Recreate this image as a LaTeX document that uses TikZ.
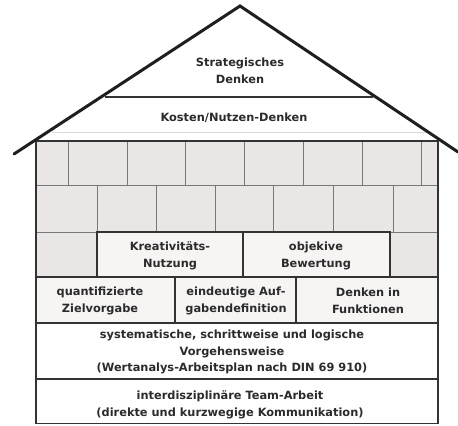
\documentclass[tikz,border=0pt]{standalone}
\usepackage{fontspec}
\setmainfont{DejaVu Sans}
\definecolor{ink}{HTML}{2B2B2B}
\definecolor{brick}{HTML}{EAE6E6}
\definecolor{panel}{HTML}{F7F4F4}
\definecolor{jointc}{HTML}{787878}
\tikzset{
  roofline/.style={line width=3bp, draw=black!88, line cap=round, line join=miter},
  wallline/.style={line width=1.5bp, draw=black!80},
  jointline/.style={line width=0.8bp, draw=jointc},
  lbl/.style={font=\bfseries\fontsize{11.4}{16.8}\selectfont, text=ink, align=center, inner sep=0pt},
}
\begin{document}
\begin{tikzpicture}[x=1bp,y=-1bp]
  \useasboundingbox (0,0) rectangle (458,425);
  \fill[white] (0,0) rectangle (458,425);

  % wall body and panels
  \fill[brick] (36,141) rectangle (438,277);
  \fill[panel] (97,232) rectangle (390,277);
  \fill[panel] (36,277) rectangle (438,323);
  \fill[white!98!brick] (36,323) rectangle (438,424);

  % brick joints, top course
  \foreach \x in {68,127,185,244,303,362,421}
    \draw[jointline] (\x,141) -- (\x,185);
  % brick joints, second course
  \foreach \x in {97,156,215,273,333,393}
    \draw[jointline] (\x,185) -- (\x,232);
  \draw[jointline] (36,185) -- (438,185);
  \draw[jointline] (36,232) -- (97,232);
  \draw[jointline] (390,232) -- (438,232);

  % third course: two panels between single bricks
  \draw[wallline] (97,232) rectangle (390,277);
  \draw[wallline] (243,232) -- (243,277);

  % fourth course: three panels
  \draw[wallline] (36,277) -- (438,277);
  \draw[wallline] (175,277) -- (175,323);
  \draw[wallline] (296,277) -- (296,323);
  \draw[wallline] (36,323) -- (438,323);
  \draw[wallline] (36,379) -- (438,379);

  % wall outline
  \draw[wallline] (36,141) rectangle (438,423.5);

  % roof
  \draw[gray!30, line width=0.6bp] (52,132) -- (428,132);
  \draw[line width=1.6bp, draw=black!80] (105,97) -- (373,97);
  \draw[roofline] (14,154) -- (240,6) -- (458,152);

  % labels
  \node[lbl] (strat) at (240,71) {Strategisches\\Denken};
  \node[lbl] (kosten) at (234,118) {Kosten/Nutzen-Denken};
  \node[lbl] (krea) at (170,256) {Kreativitäts-\\Nutzung};
  \node[lbl] (objek) at (316,256) {objekive\\Bewertung};
  \node[lbl] (quant) at (100,301) {quantifizierte\\Zielvorgabe};
  \node[lbl] (aufg) at (236,301) {eindeutige Auf-\\gabendefinition};
  \node[lbl] (funk) at (368,301) {Denken in\\Funktionen};
  \node[lbl] (syst) at (232,352) {systematische, schrittweise und logische\\Vorgehensweise\\(Wertanalys-Arbeitsplan nach DIN 69 910)};
  \node[lbl] (team) at (230,405) {interdisziplinäre Team-Arbeit\\(direkte und kurzwegige Kommunikation)};
\end{tikzpicture}
\end{document}
